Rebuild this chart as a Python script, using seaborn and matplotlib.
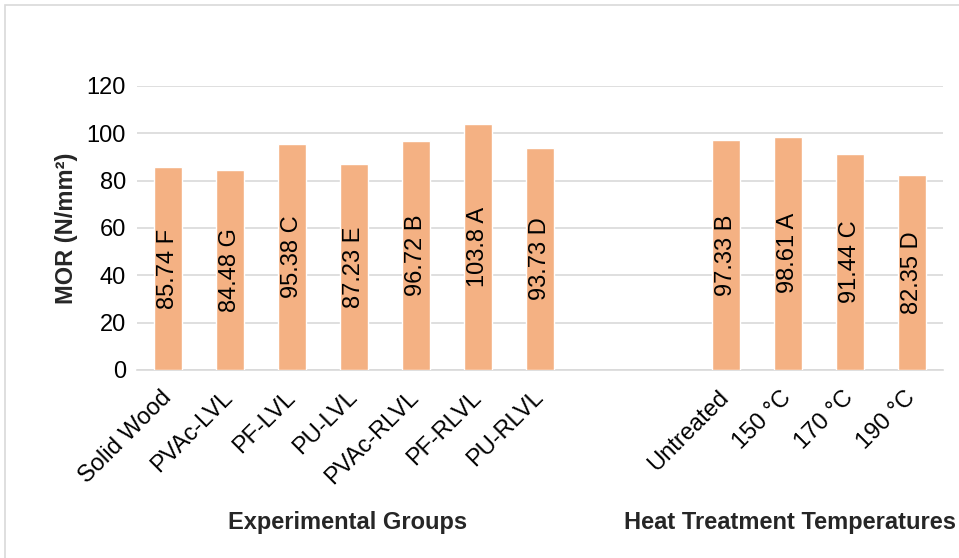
import matplotlib
matplotlib.use("Agg")
import matplotlib.pyplot as plt
import matplotlib.patches as mpatches
import matplotlib.transforms as mtransforms
import seaborn as sns
import pandas as pd

groups = ["Solid Wood", "PVAc-LVL", "PF-LVL", "PU-LVL", "PVAc-RLVL", "PF-RLVL", "PU-RLVL"]
group_mor = [85.74, 84.48, 95.38, 87.23, 96.72, 103.8, 93.73]
group_letters = ["F", "G", "C", "E", "B", "A", "D"]

temps = ["Untreated", "150 °C", "170 °C", "190 °C"]
temp_mor = [97.33, 98.61, 91.44, 82.35]
temp_letters = ["B", "A", "C", "D"]

spacers = [" ", "  "]

cats = groups + temps
vals = group_mor + temp_mor
labels = [f"{v:g} {l}" for v, l in zip(vals, group_letters + temp_letters)]
order = groups + spacers + temps

df = pd.DataFrame({"cat": cats, "mor": vals})

sns.set_style("white")
plt.rcParams["font.family"] = ["Liberation Sans", "DejaVu Sans"]

FS = 17

fig = plt.figure(figsize=(9.59, 5.58), dpi=100)
ax = fig.add_axes([137/959, 1-370/558, (943-137)/959, (370-86)/558])

sns.barplot(data=df, x="cat", y="mor", order=order, color="#F4B183",
            saturation=1, width=0.44, ax=ax, zorder=3)

ax.set_ylim(0, 120)
ax.set_yticks(range(0, 121, 20))
ax.yaxis.grid(True, color="#D9D9D9", linewidth=1.2, zorder=0)
ax.set_axisbelow(True)
for s in ["top", "right", "left"]:
    ax.spines[s].set_visible(False)
ax.spines["bottom"].set_color("#D9D9D9")
ax.spines["bottom"].set_linewidth(1.2)
ax.tick_params(axis="both", length=0, labelsize=FS, colors="black", pad=8)

ticks = [order.index(c) for c in cats]
ax.set_xticks(ticks)
ax.set_xticklabels(cats, rotation=45, ha="right", rotation_mode="anchor", fontsize=FS)
ax.tick_params(axis="x", pad=6)
shift = mtransforms.ScaledTranslation(-8/100, -8/100, fig.dpi_scale_trans)
for lbl in ax.get_xticklabels():
    lbl.set_transform(lbl.get_transform() + shift)

for x, v, lab in zip(ticks, vals, labels):
    ax.text(x, v/2, lab, rotation=90, ha="center", va="center", fontsize=FS, color="black", zorder=4)

ax.set_xlabel("")
ax.set_ylabel("MOR (N/mm²)", fontsize=FS, fontweight="bold", labelpad=6)

fig.text(348/959, 1-522/558, "Experimental Groups", ha="center", va="center", fontsize=FS, fontweight="bold")
fig.text(790/959, 1-522/558, "Heat Treatment Temperatures", ha="center", va="center", fontsize=FS, fontweight="bold")

fig.patches.append(mpatches.Rectangle((4.5/959, -0.2), 2, 1.2 - 4.5/558, transform=fig.transFigure,
                                      fill=False, edgecolor="#D9D9D9", linewidth=1.2))

fig.savefig("out.png", dpi=100, facecolor="white")
